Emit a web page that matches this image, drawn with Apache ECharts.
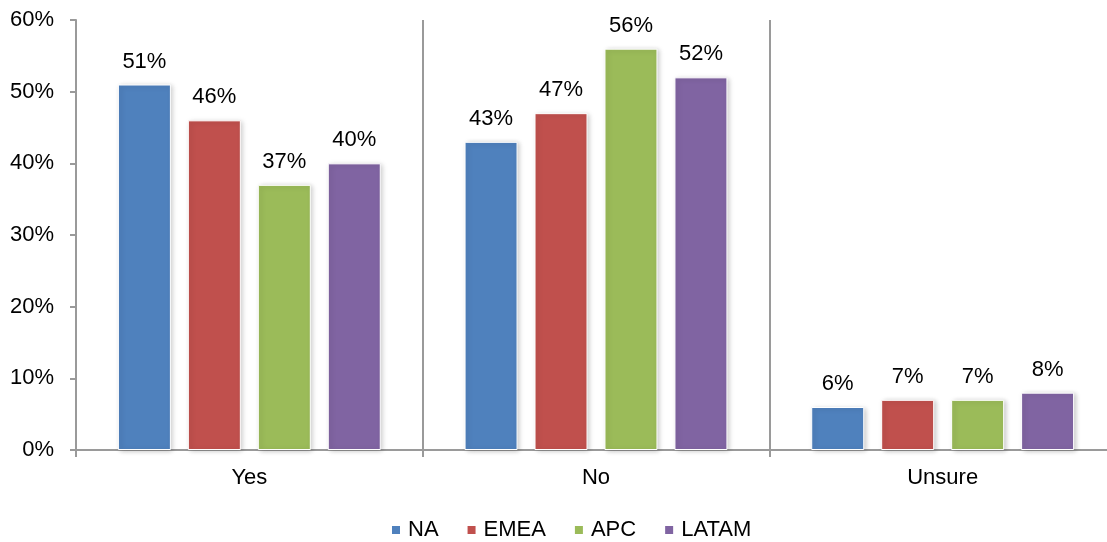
<!DOCTYPE html>
<html>
<head>
<meta charset="utf-8">
<script src="https://cdn.jsdelivr.net/npm/echarts@6/dist/echarts.min.js"></script>
<style>
  html, body { margin: 0; padding: 0; background: #fff; }
  #chart { width: 1107px; height: 542px; }
</style>
</head>
<body>
<div id="chart"></div>
<script>
// Survey answers by region, percentage of respondents
const categories = ['Yes', 'No', 'Unsure'];
const regions = ['NA', 'EMEA', 'APC', 'LATAM'];
const naValues = [51, 43, 6];
const emeaValues = [46, 47, 7];
const apcValues = [37, 56, 7];
const latamValues = [40, 52, 8];
const yTicks = [0, 10, 20, 30, 40, 50, 60];

const colors = ['#4F81BD', '#C0504D', '#9BBB59', '#8064A2'];
const seriesValues = [naValues, emeaValues, apcValues, latamValues];

const font = '"Liberation Sans", Arial, sans-serif';
const fontSize = 22;

const chart = echarts.init(document.getElementById('chart'));
chart.setOption({
  animation: false,
  color: colors,
  textStyle: { fontFamily: font },
  // plot area runs a little past the right edge of the canvas
  grid: { left: 76, right: -9, top: 20, bottom: 92, outerBoundsMode: 'none', containLabel: false },
  legend: {
    data: regions,
    bottom: -4,
    left: 385,
    icon: 'rect',
    itemWidth: 10,
    itemHeight: 10,
    itemGap: 27,
    textStyle: { fontSize: fontSize, color: '#000', fontFamily: font, padding: [0, 0, 0, 2] }
  },
  xAxis: {
    type: 'category',
    data: categories,
    axisLine: { lineStyle: { color: '#9a9a9a', width: 2 } },
    axisTick: { show: true, length: 7, interval: 0, lineStyle: { color: '#9a9a9a', width: 2 } },
    splitLine: { show: true, interval: 0, lineStyle: { color: '#9a9a9a', width: 2 } },
    axisLabel: { fontSize: fontSize, color: '#000', margin: 17, fontFamily: font }
  },
  yAxis: {
    type: 'value',
    min: yTicks[0],
    max: yTicks[yTicks.length - 1],
    interval: 10,
    axisLine: { show: true, lineStyle: { color: '#9a9a9a', width: 2 } },
    axisTick: { show: true, length: 6, lineStyle: { color: '#9a9a9a', width: 2 } },
    splitLine: { show: false },
    axisLabel: { fontSize: fontSize, color: '#000', margin: 22, formatter: '{value}%', fontFamily: font }
  },
  series: regions.map((name, i) => ({
    name: name,
    type: 'bar',
    data: seriesValues[i],
    barWidth: 53,
    barGap: '32%',
    itemStyle: {
      color: colors[i],
      borderColor: '#ffffff',
      borderWidth: 1,
      shadowColor: 'rgba(0,0,0,0.22)',
      shadowBlur: 5,
      shadowOffsetX: 2,
      shadowOffsetY: 1
    },
    label: {
      show: true,
      position: 'top',
      distance: 12,
      formatter: '{c}%',
      fontSize: fontSize,
      color: '#000',
      fontFamily: font
    }
  }))
});
</script>
</body>
</html>
